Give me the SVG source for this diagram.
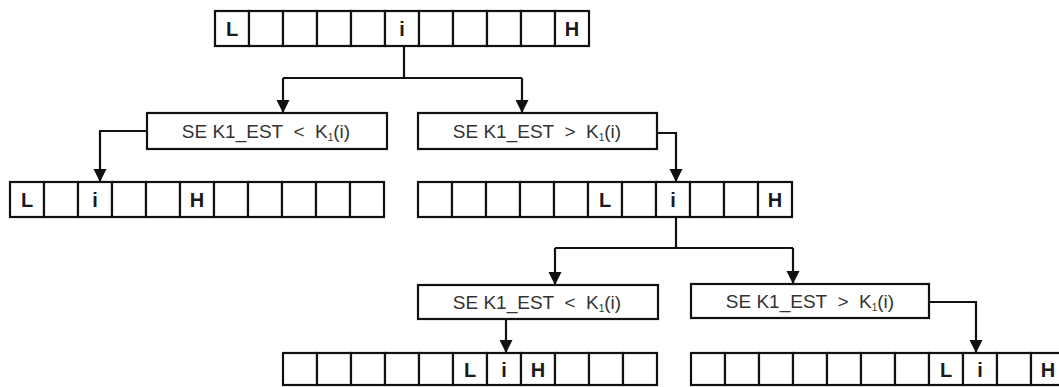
<svg xmlns="http://www.w3.org/2000/svg" width="1059" height="387" viewBox="0 0 1059 387">
<defs>
<style>
.cell{fill:#fff;stroke:#111;stroke-width:2.2}
.box{fill:#fff;stroke:#111;stroke-width:2.2}
.lbl{font-family:"Liberation Sans",Arial,sans-serif;font-weight:bold;font-size:20px;fill:#1a1a1a;text-anchor:middle}
.cond{font-family:"Liberation Sans",Arial,sans-serif;font-size:19px;fill:#333;text-anchor:middle;white-space:pre}
.sub{font-size:10px}
.conn{fill:none;stroke:#111;stroke-width:2.2}
</style>
<marker id="arr" markerUnits="userSpaceOnUse" markerWidth="14" markerHeight="14" refX="13" refY="6.5" orient="auto">
<path d="M0,0 L13,6.5 L0,13 z" fill="#111"/>
</marker>
<g id="row11">
<rect class="cell" x="0" y="0" width="34" height="35"/>
<rect class="cell" x="34" y="0" width="34" height="35"/>
<rect class="cell" x="68" y="0" width="34" height="35"/>
<rect class="cell" x="102" y="0" width="34" height="35"/>
<rect class="cell" x="136" y="0" width="34" height="35"/>
<rect class="cell" x="170" y="0" width="34" height="35"/>
<rect class="cell" x="204" y="0" width="34" height="35"/>
<rect class="cell" x="238" y="0" width="34" height="35"/>
<rect class="cell" x="272" y="0" width="34" height="35"/>
<rect class="cell" x="306" y="0" width="34" height="35"/>
<rect class="cell" x="340" y="0" width="34" height="35"/>
</g>
<g id="row11s">
<rect class="cell" x="0" y="0" width="34" height="32"/>
<rect class="cell" x="34" y="0" width="34" height="32"/>
<rect class="cell" x="68" y="0" width="34" height="32"/>
<rect class="cell" x="102" y="0" width="34" height="32"/>
<rect class="cell" x="136" y="0" width="34" height="32"/>
<rect class="cell" x="170" y="0" width="34" height="32"/>
<rect class="cell" x="204" y="0" width="34" height="32"/>
<rect class="cell" x="238" y="0" width="34" height="32"/>
<rect class="cell" x="272" y="0" width="34" height="32"/>
<rect class="cell" x="306" y="0" width="34" height="32"/>
<rect class="cell" x="340" y="0" width="34" height="32"/>
</g>
</defs>

<g id="connectors">
<path class="conn" d="M404 46 V78"/>
<path class="conn" d="M283 78 H522"/>
<path class="conn" d="M283 78 V113" marker-end="url(#arr)"/>
<path class="conn" d="M522 78 V113" marker-end="url(#arr)"/>
<path class="conn" d="M147 131 H100 V182" marker-end="url(#arr)"/>
<path class="conn" d="M657 133 H676 V182" marker-end="url(#arr)"/>
<path class="conn" d="M676 217 V248"/>
<path class="conn" d="M555 248 H793"/>
<path class="conn" d="M555 248 V285" marker-end="url(#arr)"/>
<path class="conn" d="M793 248 V284" marker-end="url(#arr)"/>
<path class="conn" d="M506 319 V353" marker-end="url(#arr)"/>
<path class="conn" d="M929 302 H976 V353" marker-end="url(#arr)"/>
</g>

<g id="array-top">
<use href="#row11" x="215" y="11"/>
<text class="lbl" x="232" y="36">L</text>
<text class="lbl" x="402" y="36">i</text>
<text class="lbl" x="572" y="36">H</text>
</g>

<g id="cond-left-1">
<rect class="box" x="147" y="113" width="240" height="36"/>
<text class="cond" x="266" y="138">SE K1_EST  &lt;  K<tspan class="sub" dy="3">1</tspan><tspan dy="-3">(i)</tspan></text>
</g>

<g id="cond-right-1">
<rect class="box" x="418" y="113" width="239" height="36"/>
<text class="cond" x="537" y="138">SE K1_EST  &gt;  K<tspan class="sub" dy="3">1</tspan><tspan dy="-3">(i)</tspan></text>
</g>

<g id="array-left">
<use href="#row11" x="10" y="182"/>
<text class="lbl" x="27" y="207">L</text>
<text class="lbl" x="95" y="207">i</text>
<text class="lbl" x="197" y="207">H</text>
</g>

<g id="array-right">
<use href="#row11" x="418" y="182"/>
<text class="lbl" x="605" y="207">L</text>
<text class="lbl" x="673" y="207">i</text>
<text class="lbl" x="775" y="207">H</text>
</g>

<g id="cond-left-2">
<rect class="box" x="418" y="285" width="240" height="34"/>
<text class="cond" x="537" y="309">SE K1_EST  &lt;  K<tspan class="sub" dy="3">1</tspan><tspan dy="-3">(i)</tspan></text>
</g>

<g id="cond-right-2">
<rect class="box" x="691" y="284" width="238" height="34"/>
<text class="cond" x="810" y="308">SE K1_EST  &gt;  K<tspan class="sub" dy="3">1</tspan><tspan dy="-3">(i)</tspan></text>
</g>

<g id="array-bottom-left">
<use href="#row11s" x="283" y="353"/>
<text class="lbl" x="470" y="377">L</text>
<text class="lbl" x="504" y="377">i</text>
<text class="lbl" x="538" y="377">H</text>
</g>

<g id="array-bottom-right">
<use href="#row11s" x="691" y="353"/>
<text class="lbl" x="946" y="377">L</text>
<text class="lbl" x="980" y="377">i</text>
<text class="lbl" x="1048" y="377">H</text>
</g>
</svg>
